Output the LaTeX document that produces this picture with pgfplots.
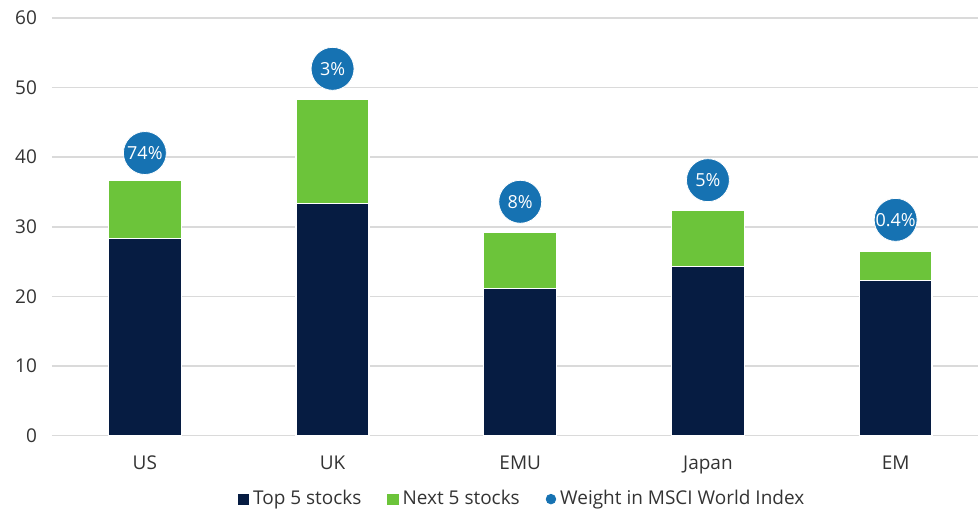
\documentclass[border=0pt]{standalone}
\usepackage{pgfplots}
\pgfplotsset{compat=1.18}
\usepackage{fontspec}
\setmainfont{Open Sans}
\definecolor{navy}{HTML}{061C42}
\definecolor{lgreen}{HTML}{6CC43A}
\definecolor{cblue}{HTML}{1672B2}
\definecolor{gridc}{HTML}{DADADA}
\definecolor{txt}{HTML}{333333}
\begin{document}
\begin{tikzpicture}[font=\fontsize{9.5}{11}\selectfont]
\path (-26pt,-36pt) rectangle (463.5pt,218pt);
\begin{axis}[
  at={(0,0)}, anchor=south west,
  scale only axis, width=463.5pt, height=209pt,
  xmin=-0.495, xmax=4.44, ymin=0, ymax=60,
  ytick={0,10,...,60},
  ymajorgrids, grid style={gridc, line width=0.8pt},
  axis line style={draw=none},
  major tick length=0pt,
  xtick={0,1,2,3,4},
  xticklabels={US,UK,EMU,Japan,EM},
  /pgf/number format/assume math mode=true,
  tick label style={text=txt},
  yticklabel style={xshift=-4pt},
  xticklabel style={yshift=-6.5pt},
  ybar stacked, bar width=36.5pt,
]
\addplot[fill=navy, draw=white, line width=0.6pt] coordinates {(0,28.3) (1,33.3) (2,21.1) (3,24.3) (4,22.3)};
\addplot[fill=lgreen, draw=white, line width=0.6pt] coordinates {(0,8.4) (1,15.0) (2,8.1) (3,8.1) (4,4.1)};
\end{axis}
\begin{axis}[
  at={(0,0)}, anchor=south west,
  scale only axis, width=463.5pt, height=209pt,
  xmin=-0.495, xmax=4.44, ymin=0, ymax=60,
  hide axis, clip=false,
  legend style={at={(0.5,-0.152)}, anchor=center, xshift=4pt, draw=none, fill=none,
    legend columns=3, text=txt,
    /tikz/every even column/.append style={column sep=11pt}},
  legend cell align=left,
]
\addlegendimage{legend image code/.code={\fill[navy] (0pt,-2.6pt) rectangle (5.2pt,2.6pt);}}
\addlegendentry{Top 5 stocks}
\addlegendimage{legend image code/.code={\fill[lgreen] (0pt,-2.6pt) rectangle (5.2pt,2.6pt);}}
\addlegendentry{Next 5 stocks}
\addplot[only marks, mark=*, mark size=10.75pt,
  mark options={fill=cblue, draw=white, line width=0.4pt},
  point meta=explicit symbolic, nodes near coords,
  every node near coord/.append style={anchor=center, text=white, font=\fontsize{9}{11}\selectfont},
  legend image code/.code={\fill[cblue] (2.6pt,0pt) circle (2.4pt);}]
  table[meta=lab, row sep=\\] {
  x y lab \\
  0 40.6 74\% \\
  1 52.7 3\% \\
  2 33.6 8\% \\
  3 36.7 5\% \\
  4 31.0 0.4\% \\
  };
\addlegendentry{Weight in MSCI World Index}
\end{axis}
\end{tikzpicture}
\end{document}
